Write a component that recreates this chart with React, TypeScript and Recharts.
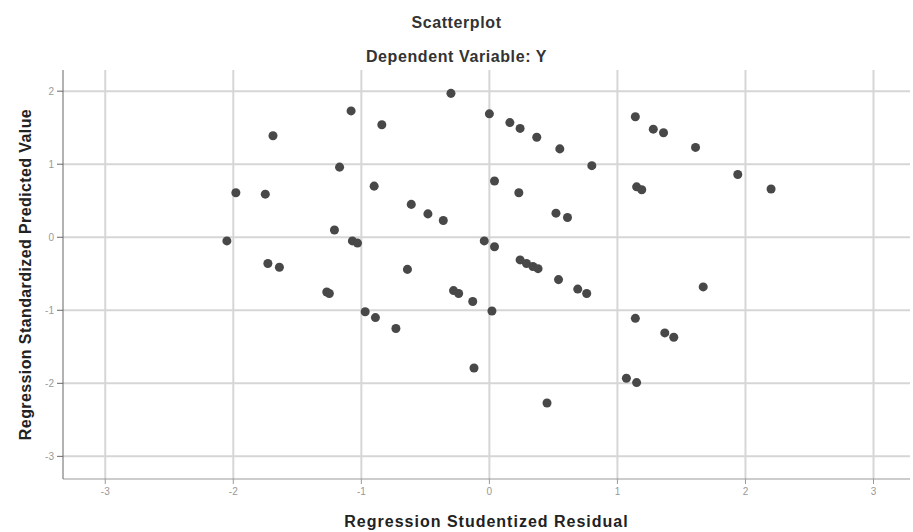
import { ScatterChart, Scatter, XAxis, YAxis, ZAxis, ReferenceLine, Label } from 'recharts';

// Regression Studentized Residual (x) and Regression Standardized Predicted Value (y)
const residuals = [
  -2.05, -1.98, -1.75, -1.69, -1.73, -1.64, -1.27, -1.25, -1.21, -1.17,
  -1.08, -1.07, -1.03, -0.97, -0.89, -0.90, -0.84, -0.73, -0.64, -0.61,
  -0.48, -0.36, -0.30, -0.28, -0.24, -0.13, -0.12, -0.04, 0.0, 0.02,
  0.04, 0.04, 0.16, 0.24, 0.23, 0.24, 0.29, 0.34, 0.38, 0.37,
  0.45, 0.55, 0.52, 0.61, 0.54, 0.69, 0.76, 0.80, 1.14, 1.14,
  1.07, 1.15, 1.28, 1.36, 1.15, 1.19, 1.37, 1.44, 1.61, 1.67,
  1.94, 2.20,
];
const predicted = [
  -0.05, 0.61, 0.59, 1.39, -0.36, -0.41, -0.75, -0.77, 0.10, 0.96,
  1.73, -0.05, -0.08, -1.02, -1.10, 0.70, 1.54, -1.25, -0.44, 0.45,
  0.32, 0.23, 1.97, -0.73, -0.77, -0.88, -1.79, -0.05, 1.69, -1.01,
  -0.13, 0.77, 1.57, 1.49, 0.61, -0.31, -0.36, -0.40, -0.43, 1.37,
  -2.27, 1.21, 0.33, 0.27, -0.58, -0.71, -0.77, 0.98, 1.65, -1.11,
  -1.93, -1.99, 1.48, 1.43, 0.69, 0.65, -1.31, -1.37, 1.23, -0.68,
  0.86, 0.66,
];
const xTicks = [-3, -2, -1, 0, 1, 2, 3];
const yTicks = [-3, -2, -1, 0, 1, 2];

const points = residuals.map((x, i) => ({ x, y: predicted[i] }));

const font = '"Liberation Sans", Arial, sans-serif';
const gridColor = '#d6d6d6';
const titleStyle = {
  position: 'absolute' as const, left: 0, width: 913, textAlign: 'center' as const,
  fontSize: 16, fontWeight: 'bold' as const, letterSpacing: 0.6, color: '#333', lineHeight: '18px',
};

export default function App() {
  return (
    <div style={{ position: 'absolute', left: 0, top: 0, width: 913, height: 532, background: '#fff', fontFamily: font }}>
      <div style={{ ...titleStyle, top: 14 }}>Scatterplot</div>
      <div style={{ ...titleStyle, top: 48 }}>Dependent Variable: Y</div>
      <div style={{ position: 'absolute', left: 0, top: 0 }}>
        <ScatterChart width={913} height={532} margin={{ top: 70, right: 3, bottom: 0, left: 23 }}>
          <XAxis
            type="number"
            dataKey="x"
            domain={[-3.33, 3.285]}
            ticks={xTicks}
            allowDataOverflow
            height={53}
            stroke="#999"
            tick={{ fill: '#999', fontSize: 10, fontFamily: font }}
            tickSize={5}
            tickMargin={4}
          >
            <Label value="Regression Studentized Residual" position="insideBottom" offset={5} style={{ fill: '#222', fontSize: 16, fontWeight: 'bold', letterSpacing: 1, fontFamily: font }} />
          </XAxis>
          <YAxis
            type="number"
            dataKey="y"
            domain={[-3.31, 2.29]}
            ticks={yTicks}
            allowDataOverflow
            width={40}
            stroke="#666"
            tick={{ fill: '#999', fontSize: 10, fontFamily: font }}
            tickSize={6}
            tickMargin={3}
          >
            <Label value="Regression Standardized Predicted Value" angle={-90} position="insideLeft" offset={2} style={{ textAnchor: 'middle', fill: '#222', fontSize: 16, fontWeight: 'bold', letterSpacing: 0.4, fontFamily: font }} />
          </YAxis>
          <ZAxis range={[36, 36]} />
          {yTicks.map((t) => (
            <ReferenceLine key={'y' + t} y={t} stroke={gridColor} strokeWidth={2} />
          ))}
          {xTicks.map((t) => (
            <ReferenceLine key={'x' + t} x={t} stroke={gridColor} strokeWidth={2} />
          ))}
          <Scatter data={points} fill="#484848" isAnimationActive={false} />
        </ScatterChart>
      </div>
    </div>
  );
}
